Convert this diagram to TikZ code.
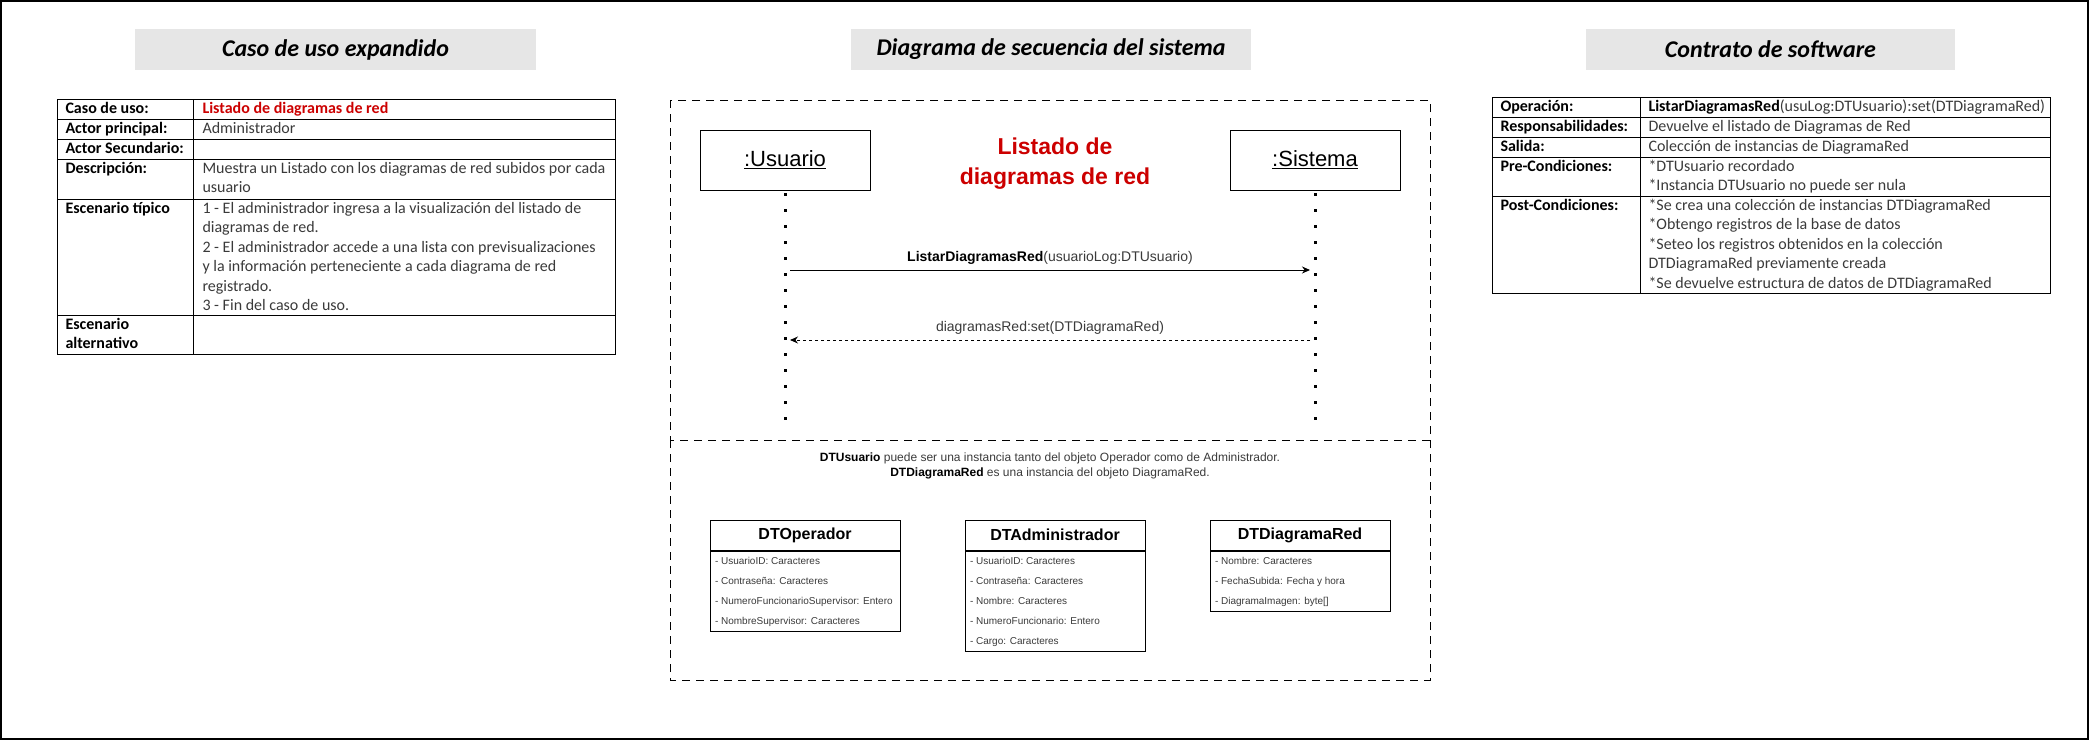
\documentclass[tikz,border=0pt]{standalone}
\usepackage{fontspec}
\setmainfont{Carlito}
\newfontfamily\arial{Liberation Sans}
\usetikzlibrary{arrows.meta,calc}
\definecolor{hdrgray}{HTML}{E6E6E6}
\definecolor{redtxt}{HTML}{CC0000}
\definecolor{txtgray}{HTML}{3A3A3A}
\tikzset{
  >={Stealth[length=8pt,width=7pt]},
  ttl/.style={fill=hdrgray,minimum height=41pt,inner sep=0pt,font=\fontsize{24}{28}\selectfont\bfseries\itshape},
  lab/.style={anchor=base west,inner sep=0pt,align=left,font=\fontsize{16}{19.4}\selectfont\bfseries},
  val/.style={anchor=base west,inner sep=0pt,align=left,text=txtgray,font=\fontsize{16}{19.4}\selectfont},
  obj/.style={draw,minimum width=170pt,minimum height=60pt,font=\arial\fontsize{22}{26}\selectfont},
  life/.style={line width=3pt,dash pattern=on 3pt off 13pt,dash phase=13.5pt},
  call/.style={->,shorten <=5pt,shorten >=5pt},
  ret/.style={call,dash pattern=on 3pt off 3pt},
  lbl/.style={above=2pt,text=txtgray,font=\arial\fontsize{14}{16}\selectfont},
  hd/.style={draw,minimum height=30pt,inner sep=0pt,font=\arial\bfseries\fontsize{16}{19}\selectfont},
  bd/.style={draw,anchor=north,inner sep=0pt},
  attr/.style={anchor=west,inner sep=0pt,text height=7.2pt,text depth=2pt,text=txtgray,font=\arial\fontsize{10}{12}\selectfont},
  zone/.style={dash pattern=on 8pt off 6pt},
}
\begin{document}
\begin{tikzpicture}[x=1pt,y=1pt,line width=1pt]
\useasboundingbox (0,0) rectangle (2091,-742);
\draw[line width=1.5pt] (1,-1) rectangle (2088,-739);
% titles
\node[ttl,minimum width=401pt] (t1) at (335.5,-49.5) {Caso de uso expandido};
\node[ttl,minimum width=400pt] (t2) at (1051,-49.5) {Diagrama de secuencia del sistema};
\node[ttl,minimum width=369pt] (t3) at (1770.5,-49.5) {Contrato de software};

% caso de uso expandido (multi-line nodes sit on their last baseline)
\draw (57,-99) rectangle (615,-354) (193,-99) -- (193,-354);
\foreach \y in {119,139,159,199,315} \draw (57,-\y) -- (615,-\y);
\node[lab] (c1) at (65,-113.5) {Caso de uso:};
\node[lab,text=redtxt] (v1) at (202,-113.5) {Listado de diagramas de red};
\node[lab] (c2) at (65,-133.5) {Actor principal:};
\node[val] (v2) at (202,-133.5) {Administrador};
\node[lab] (c3) at (65,-153.5) {Actor Secundario:};
\node[lab] (c4) at (65,-173.5) {Descripción:};
\node[val] (v4) at (202,-192.9) {Muestra un Listado con los diagramas de red subidos por cada\\usuario};
\node[lab] (c5) at (65,-213.5) {Escenario típico};
\node[val] (v5) at (202,-310.5) {1 - El administrador ingresa a la visualización del listado de\\diagramas de red.\\2 - El administrador accede a una lista con previsualizaciones\\y la información perteneciente a cada diagrama de red\\registrado.\\3 - Fin del caso de uso.};
\node[lab] (c6) at (65,-348.9) {Escenario\\alternativo};

% contrato de software
\draw (1492,-97) rectangle (2050,-293) (1640,-97) -- (1640,-293);
\foreach \y in {117,137,157,196} \draw (1492,-\y) -- (2050,-\y);
\node[lab] (k1) at (1500,-111.5) {Operación:};
\node[val] (w1) at (1648,-111.5) {{\color{black}\bfseries ListarDiagramasRed}(usuLog:DTUsuario):set(DTDiagramaRed)};
\node[lab] (k2) at (1500,-131.5) {Responsabilidades:};
\node[val] (w2) at (1648,-131.5) {Devuelve el listado de Diagramas de Red};
\node[lab] (k3) at (1500,-151.5) {Salida:};
\node[val] (w3) at (1648,-151.5) {Colección de instancias de DiagramaRed};
\node[lab] (k4) at (1500,-171.5) {Pre-Condiciones:};
\node[val] (w4) at (1648,-190.9) {*DTUsuario recordado\\*Instancia DTUsuario no puede ser nula};
\node[lab] (k5) at (1500,-210.5) {Post-Condiciones:};
\node[val] (w5) at (1648,-288.1) {*Se crea una colección de instancias DTDiagramaRed\\*Obtengo registros de la base de datos\\*Seteo los registros obtenidos en la colección\\DTDiagramaRed previamente creada\\*Se devuelve estructura de datos de DTDiagramaRed};

% diagrama de secuencia
\draw[zone] (670,-100) rectangle (1430,-440);
\draw[zone] (670,-440) -- (670,-680) -- (1430,-680) -- (1430,-440);
\node[obj] (usr) at (785,-160) {\underline{:Usuario}};
\node[obj] (sis) at (1315,-160) {\underline{:Sistema}};
\node[align=center,anchor=base,inner sep=0pt,text=redtxt,font=\arial\bfseries\fontsize{23}{30}\selectfont] (hl) at (1055,-184) {Listado de\\diagramas de red};
\coordinate (usrEnd) at (785,-420); \coordinate (sisEnd) at (1315,-420);
\draw[life] (usr.south) -- (usrEnd); \draw[life] (sis.south) -- (sisEnd);
\coordinate (u1) at (785,-270); \coordinate (s1) at (1315,-270);
\coordinate (u2) at (785,-340); \coordinate (s2) at (1315,-340);
\draw[call] (u1) -- node[lbl]{{\color{black}\bfseries ListarDiagramasRed}(usuarioLog:DTUsuario)} (s1);
\draw[ret] (s2) -- node[lbl]{diagramasRed:set(DTDiagramaRed)} (u2);

% nota y clases
\node[align=center,anchor=base,inner sep=0pt,text=txtgray,font=\arial\fontsize{12}{14.5}\selectfont] (nt) at (1050,-476) {{\color{black}\bfseries DTUsuario} puede ser una instancia tanto del objeto Operador como de Administrador.\\{\color{black}\bfseries DTDiagramaRed} es una instancia del objeto DiagramaRed.};
\node[hd,minimum width=190pt] (op) at (805,-535) {DTOperador};
\node[bd,minimum width=190pt,minimum height=80pt] (opB) at (op.south) {};
\foreach \a [count=\i] in {{- UsuarioID: Caracteres},{- Contraseña: Caracteres},{- NumeroFuncionarioSupervisor: Entero},{- NombreSupervisor: Caracteres}}
  \node[attr] at ($(opB.north west)+(5,9-20*\i)$) {\a};
\node[hd,minimum width=180pt] (adm) at (1055,-535) {DTAdministrador};
\node[bd,minimum width=180pt,minimum height=100pt] (admB) at (adm.south) {};
\foreach \a [count=\i] in {{- UsuarioID: Caracteres},{- Contraseña: Caracteres},{- Nombre: Caracteres},{- NumeroFuncionario: Entero},{- Cargo: Caracteres}}
  \node[attr] at ($(admB.north west)+(5,9-20*\i)$) {\a};
\node[hd,minimum width=180pt] (dgr) at (1300,-535) {DTDiagramaRed};
\node[bd,minimum width=180pt,minimum height=60pt] (dgrB) at (dgr.south) {};
\foreach \a [count=\i] in {{- Nombre: Caracteres},{- FechaSubida: Fecha y hora},{- DiagramaImagen: byte[]}}
  \node[attr] at ($(dgrB.north west)+(5,9-20*\i)$) {\a};
\end{tikzpicture}
\end{document}
